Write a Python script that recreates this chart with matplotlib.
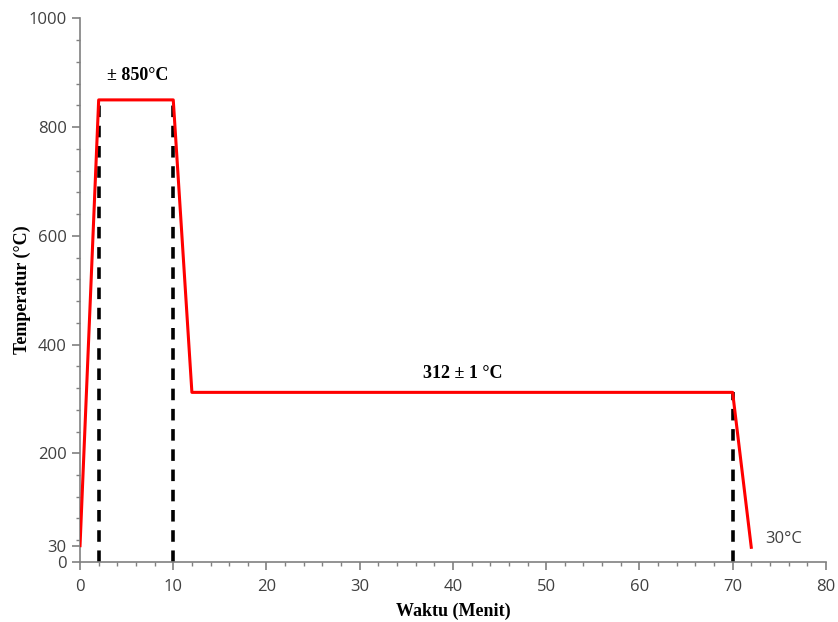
import matplotlib.pyplot as plt
import numpy as np

# profil suhu
waktu = [0, 2, 10, 12, 70, 72]
suhu = [30, 850, 850, 312, 312, 27]

# garis putus-putus
garis_x = [2, 10, 70]
garis_y = [850, 850, 312]

xticks = [0, 10, 20, 30, 40, 50, 60, 70, 80]
yticks = [0, 30, 200, 400, 600, 800, 1000]

fig = plt.figure(figsize=(8.38, 6.22), dpi=100)
ax = fig.add_axes([0.0955, 0.0965, 0.890, 0.874])

for gx, gy in zip(garis_x, garis_y):
    ax.plot([gx, gx], [0, gy], color='black', lw=2.6, ls=(0, (3.2, 2.4)), zorder=2)
ax.plot(waktu, suhu, color='#ff0000', lw=2.2, zorder=3)

ax.set_xlim(0, 80)
ax.set_ylim(0, 1000)
ax.set_xticks(xticks)
ax.set_yticks(yticks)
ax.set_xticks(np.arange(0, 81, 2), minor=True)
ax.set_yticks(np.arange(0, 1001, 40), minor=True)

for s in ['top', 'right']:
    ax.spines[s].set_visible(False)
for s in ['left', 'bottom']:
    ax.spines[s].set_color('#808080')
    ax.spines[s].set_linewidth(1.2)
ax.tick_params(which='major', direction='out', length=6, color='#808080', width=1.2,
               labelsize=12, labelcolor='#404040')
ax.tick_params(which='minor', direction='out', length=3, color='#808080', width=1)
ax.tick_params(axis='x', pad=6)
for lbl in ax.get_xticklabels() + ax.get_yticklabels():
    lbl.set_family('Open Sans')

ax.set_xlabel('Waktu (Menit)', family='Liberation Serif', fontweight='bold', fontsize=13, labelpad=6)
fig.text(22 / 838, 0.535, 'Temperatur (°C)', family='Liberation Serif', fontweight='bold',
         fontsize=13, rotation=90, ha='center', va='center')

ax.text(6.2, 895, '± 850°C', family='Liberation Serif', fontweight='bold', fontsize=13, ha='center', va='center')
ax.text(41, 347, '312 ± 1 °C', family='Liberation Serif', fontweight='bold', fontsize=13, ha='center', va='center')
ax.text(73.5, 42, '30°C', family='Open Sans', fontsize=12, ha='left', va='center', color='#404040')

fig.savefig('out.png')
